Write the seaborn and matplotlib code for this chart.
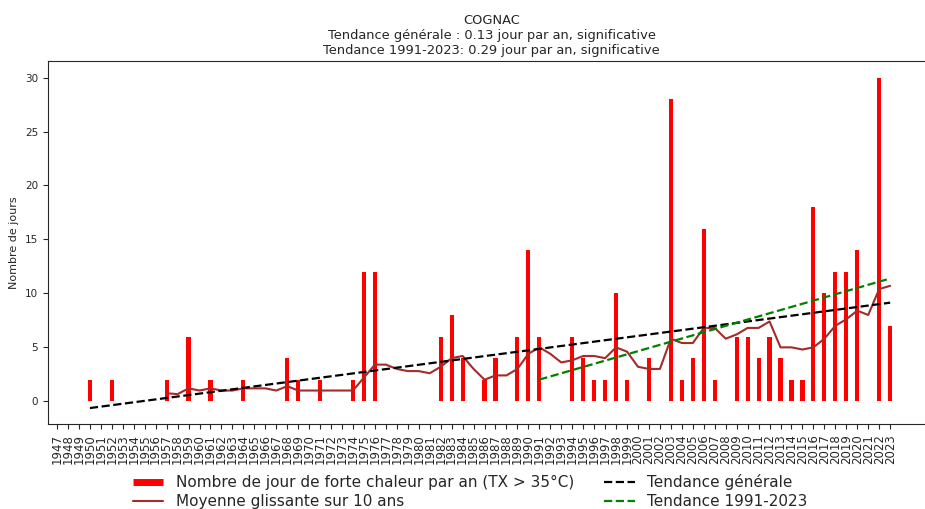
import seaborn as sns
import matplotlib
matplotlib.use("Agg")
import matplotlib.pyplot as plt
from matplotlib.lines import Line2D
import numpy as np
import pandas as pd

sns.set_style("ticks")

# heat days per year at Cognac (1947-1949 missing)
years = list(range(1947, 2024))
days = [np.nan, np.nan, np.nan,
        2, 0, 2, 0, 0, 0, 0, 2, 0, 6,          # 1950-1959
        0, 2, 0, 0, 2, 0, 0, 0, 4, 2,          # 1960-1969
        0, 2, 0, 0, 2, 12, 12, 0, 0, 0,        # 1970-1979
        0, 0, 6, 8, 4, 0, 2, 4, 0, 6,          # 1980-1989
        14, 6, 0, 0, 6, 4, 2, 2, 10, 2,        # 1990-1999
        0, 4, 0, 28, 2, 4, 16, 2, 0, 6,        # 2000-2009
        6, 4, 6, 4, 2, 2, 18, 10, 12, 12,      # 2010-2019
        14, 0, 30, 7]                          # 2020-2023
recent_start = 1991

title_lines = ["COGNAC",
               "Tendance générale : 0.13 jour par an, significative",
               "Tendance 1991-2023: 0.29 jour par an, significative"]

df = pd.DataFrame({"annee": years, "jours": days})
df["moyenne"] = df["jours"].rolling(10, min_periods=8).mean()
valid = df.dropna(subset=["jours"])
recent = valid[valid["annee"] >= recent_start]

p_all = np.polyfit(valid["annee"], valid["jours"], 1)
p_rec = np.polyfit(recent["annee"], recent["jours"], 1)
trend_all = np.polyval(p_all, valid["annee"])
trend_rec = np.polyval(p_rec, recent["annee"])

fig = plt.figure(figsize=(9.25, 5.09), dpi=100)
ax = fig.add_axes([0.0519, 0.1664, 0.959, 0.7137])

sns.barplot(data=valid, x="annee", y="jours", native_scale=True, color="red",
            saturation=1, width=0.38, errorbar=None, linewidth=0, ax=ax)
sns.lineplot(data=df, x="annee", y="moyenne", color="brown", lw=1.5, ax=ax)
sns.lineplot(x=valid["annee"], y=trend_all, color="black", lw=1.6,
             linestyle="--", ax=ax)
sns.lineplot(x=recent["annee"], y=trend_rec, color="green", lw=1.6,
             linestyle="--", ax=ax)

ax.set_xlim(1946.18, 2027.1)
ax.set_ylim(-2.13, 31.53)
ax.set_xticks(years)
ax.set_xticklabels([str(y) for y in years], rotation=90, fontsize=8.5)
ax.set_yticks([0, 5, 10, 15, 20, 25, 30])
ax.tick_params(axis="y", labelsize=7.5)
ax.set_xlabel("")
ax.set_ylabel("Nombre de jours", fontsize=8)
ax.set_title("\n".join(title_lines), fontsize=9.4, pad=5)

handles = [Line2D([], [], color="red", lw=5, solid_capstyle="butt"),
           Line2D([], [], color="brown", lw=1.5),
           Line2D([], [], color="black", lw=1.6, linestyle="--"),
           Line2D([], [], color="green", lw=1.6, linestyle="--")]
labels = ["Nombre de jour de forte chaleur par an (TX > 35°C)",
          "Moyenne glissante sur 10 ans",
          "Tendance générale",
          "Tendance 1991-2023"]
fig.legend(handles, labels, ncol=2, loc="upper left", frameon=False,
           bbox_to_anchor=(0.137, 0.081), borderaxespad=0, fontsize=11,
           labelspacing=0.3)

fig.savefig("out.png", dpi=100)
